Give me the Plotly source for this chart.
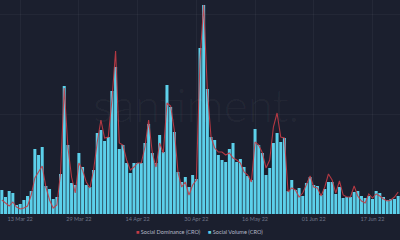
import plotly.graph_objects as go
import pandas as pd

start_date = "2022-03-08"
n_days = 109
dates = pd.date_range(start_date, periods=n_days, freq="D")

social_volume = [
    24, 17, 23, 21, 9, 10, 14, 18, 23, 65, 59, 67, 28, 25, 15, 17, 40, 128, 69, 31,
    29, 61, 47, 29, 27, 44, 81, 84, 73, 77, 123, 147, 65, 69, 51, 41, 51, 51, 51, 71,
    90, 61, 51, 79, 62, 129, 107, 82, 42, 32, 37, 27, 39, 35, 166, 209, 125, 77, 74, 59,
    54, 52, 65, 71, 52, 55, 47, 38, 34, 85, 69, 61, 39, 46, 71, 81, 72, 76, 23, 34,
    24, 26, 18, 31, 37, 29, 28, 19, 25, 32, 32, 20, 27, 16, 17, 17, 22, 23, 18, 16,
    18, 15, 23, 21, 17, 14, 15, 15, 18,
]

social_dominance = [
    14, 11, 8, 12, 7, 5, 6, 8, 19, 36, 42, 48, 27, 14, 6, 9, 41, 126, 67, 37,
    21, 51, 44, 32, 26, 44, 72, 94, 76, 77, 114, 163, 71, 69, 54, 44, 47, 51, 51, 67,
    94, 61, 47, 71, 61, 111, 108, 84, 42, 27, 32, 19, 29, 34, 154, 209, 124, 77, 66, 62,
    62, 59, 61, 56, 54, 51, 42, 39, 32, 72, 69, 61, 46, 54, 87, 101, 77, 76, 22, 26,
    24, 17, 21, 29, 38, 27, 26, 18, 27, 40, 34, 21, 33, 19, 17, 17, 28, 18, 13, 11,
    20, 16, 20, 18, 15, 13, 14, 17, 22,
]

tick_dates = ["2022-03-13", "2022-03-29", "2022-04-14", "2022-04-30",
              "2022-05-16", "2022-06-01", "2022-06-17"]
tick_labels = ["13 Mar 22", "29 Mar 22", "14 Apr 22", "30 Apr 22",
               "16 May 22", "01 Jun 22", "17 Jun 22"]

legend_labels = ["Social Dominance (CRO)", "Social Volume (CRO)"]

bg = "#1b1f2e"
cyan = "#5cd0ea"
red = "#c43c46"

fig = go.Figure()
fig.add_trace(go.Bar(x=dates, y=social_volume, name=legend_labels[1],
                     marker=dict(color=cyan, line=dict(width=0)), showlegend=False))
fig.add_trace(go.Scatter(x=dates, y=social_dominance, name=legend_labels[0],
                         mode="lines", line=dict(color=red, width=1.1),
                         opacity=0.9, yaxis="y2", showlegend=False))

vmax = max(social_volume)
dmax = max(social_dominance)
x0 = dates[0] - pd.Timedelta(hours=12)
x1 = dates[-1] + pd.Timedelta(hours=12)

fig.update_layout(
    width=400, height=240,
    margin=dict(l=0, r=0, t=0, b=26),
    paper_bgcolor=bg, plot_bgcolor=bg,
    bargap=0.18,
    xaxis=dict(range=[x0, x1], tickvals=pd.to_datetime(tick_dates), ticktext=tick_labels,
               tickfont=dict(size=5.5, color="#6f768a", family="Lato"),
               showgrid=True, gridcolor="rgba(255,255,255,0.045)", gridwidth=1,
               zeroline=False, showline=False, ticks="", ticklen=0),
    yaxis=dict(range=[0, vmax * 214 / 209], showticklabels=False,
               showgrid=True, gridcolor="rgba(255,255,255,0.04)", nticks=3,
               zeroline=False),
    yaxis2=dict(range=[0, dmax * 214 / 209], overlaying="y", showticklabels=False,
                showgrid=False, zeroline=False),
    font=dict(family="Lato", color="#a0a6b8"),
)

# watermark
fig.add_annotation(text="santiment.", x=0.49, y=0.51, xref="paper", yref="paper",
                   showarrow=False, font=dict(size=46, color="rgba(255,255,255,0.045)",
                                              family="Lato", weight=300))

# legend (drawn as text)
legend_items = [(legend_labels[0], red, 134 / 400), (legend_labels[1], cyan, 206 / 400)]
for label, col, xp in legend_items:
    fig.add_annotation(text=f"<span style='color:{col}'>■</span> {label}",
                       x=xp, y=-17 / 214, xref="paper", yref="paper",
                       xanchor="left", yanchor="middle",
                       showarrow=False, font=dict(size=5.6, color="#b4b9c8", family="Lato"))

fig.write_html("out.html")
